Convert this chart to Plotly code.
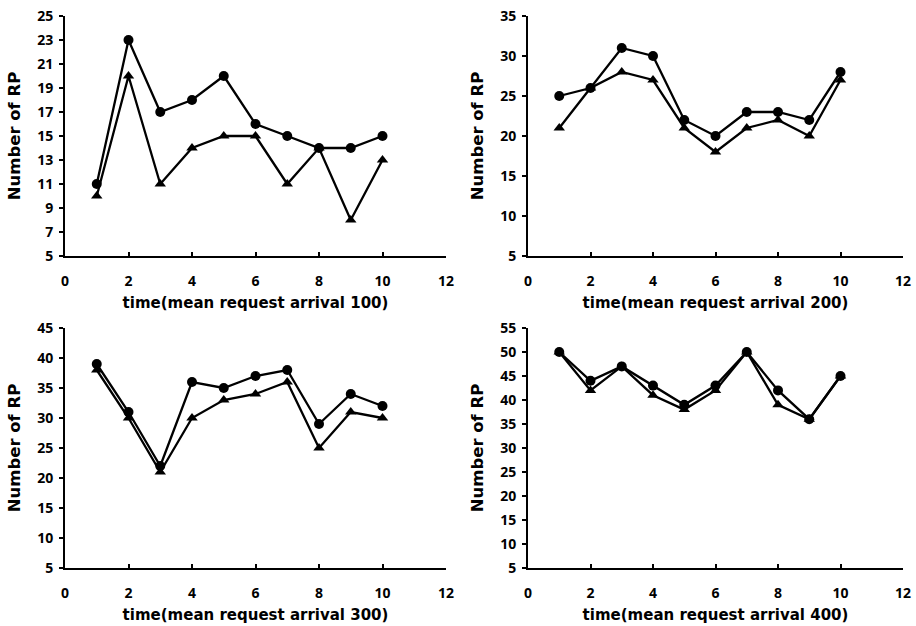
import plotly.graph_objects as go

time = [1, 2, 3, 4, 5, 6, 7, 8, 9, 10]

circ_100 = [11, 23, 17, 18, 20, 16, 15, 14, 14, 15]
tri_100 = [10, 20, 11, 14, 15, 15, 11, 14, 8, 13]
circ_200 = [25, 26, 31, 30, 22, 20, 23, 23, 22, 28]
tri_200 = [21, 26, 28, 27, 21, 18, 21, 22, 20, 27]
circ_300 = [39, 31, 22, 36, 35, 37, 38, 29, 34, 32]
tri_300 = [38, 30, 21, 30, 33, 34, 36, 25, 31, 30]
circ_400 = [50, 44, 47, 43, 39, 43, 50, 42, 36, 45]
tri_400 = [50, 42, 47, 41, 38, 42, 50, 39, 36, 45]

panels = [
    ("time(mean request arrival 100)", circ_100, tri_100, [5, 25], 2),
    ("time(mean request arrival 200)", circ_200, tri_200, [5, 35], 5),
    ("time(mean request arrival 300)", circ_300, tri_300, [5, 45], 5),
    ("time(mean request arrival 400)", circ_400, tri_400, [5, 55], 5),
]

W, H = 916, 626
def px(a, b):
    return [a / W, b / W]
def py(top, bottom):
    return [1 - bottom / H, 1 - top / H]

xdoms = [px(65, 446), px(528, 903)]
ydoms = [py(16, 256), py(328, 568)]

TICKFONT = "Open Sans"
TITLEFONT = "DejaVu Sans"
fig = go.Figure()
layout = dict(
    width=W, height=H,
    margin=dict(l=0, r=0, t=0, b=0, autoexpand=False),
    paper_bgcolor="white", plot_bgcolor="white",
    showlegend=False,
    font=dict(family=TICKFONT, size=13, color="black"),
)

for i, (title, circ, tri, yr, dy) in enumerate(panels):
    n = i + 1
    xa = "x" if n == 1 else f"x{n}"
    ya = "y" if n == 1 else f"y{n}"
    fig.add_trace(go.Scatter(
        x=time, y=tri, xaxis=xa, yaxis=ya, mode="lines+markers",
        line=dict(color="black", width=2.3),
        marker=dict(symbol="triangle-up", size=10, color="black"),
        cliponaxis=False,
    ))
    fig.add_trace(go.Scatter(
        x=time, y=circ, xaxis=xa, yaxis=ya, mode="lines+markers",
        line=dict(color="black", width=2.3),
        marker=dict(symbol="circle", size=10, color="black"),
        cliponaxis=False,
    ))
    col = i % 2
    row = i // 2
    xkey = "xaxis" if n == 1 else f"xaxis{n}"
    ykey = "yaxis" if n == 1 else f"yaxis{n}"
    layout[xkey] = dict(
        domain=xdoms[col], anchor=ya, range=[0, 12], dtick=2, tick0=0,
        showline=True, linecolor="black", linewidth=2, showgrid=False,
        zeroline=False, ticks="inside", ticklen=4, tickwidth=1.5, tickcolor="black",
        ticklabelstandoff=11, automargin=False, ticklabeloverflow="allow",
        tickfont=dict(family=TICKFONT, size=14, color="black", weight="bold"),
        title=dict(text=title, standoff=9,
                   font=dict(family=TITLEFONT, size=15, color="black", weight="bold")),
    )
    layout[ykey] = dict(
        domain=ydoms[row], anchor=xa, range=yr, dtick=dy, tick0=5,
        showline=True, linecolor="black", linewidth=2, showgrid=False,
        zeroline=False, ticks="outside", ticklen=4, tickwidth=1.5, tickcolor="black",
        ticklabelstandoff=3, automargin=False, ticklabeloverflow="allow",
        tickfont=dict(family=TICKFONT, size=14, color="black", weight="bold"),
        title=dict(text="Number of RP", standoff=12,
                   font=dict(family=TITLEFONT, size=16.5, color="black", weight="bold")),
    )

fig.update_layout(**layout)
# remove the browser's default 8px body margin so the figure fills the window
fig.write_html("out.html", config={"displayModeBar": False},
               post_script="document.body.style.margin='0';")
